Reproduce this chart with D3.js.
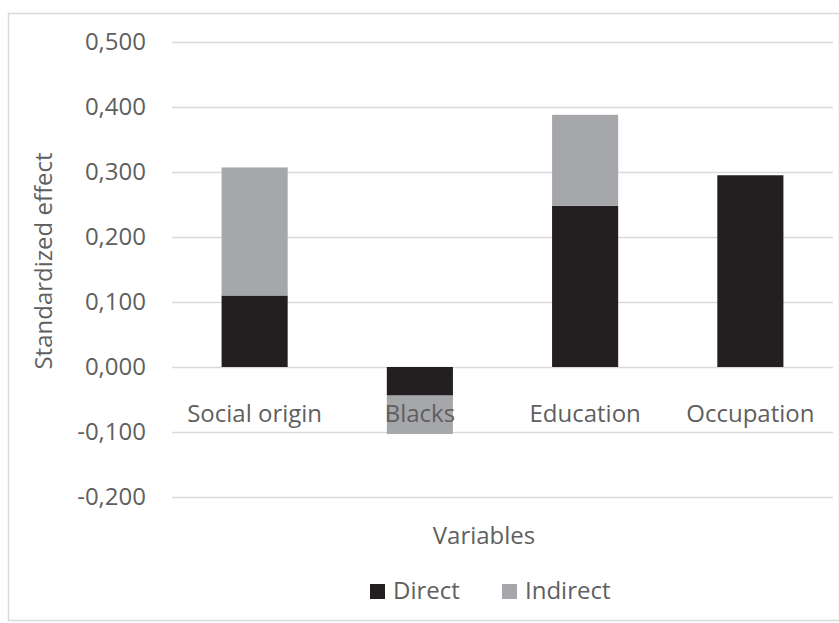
<!DOCTYPE html>
<html>
<head>
<meta charset="utf-8">
<script src="https://cdn.jsdelivr.net/npm/d3@7"></script>
<style>
  body { margin: 0; background: #fff; }
  svg text { font-family: "Open Sans", "Noto Sans", sans-serif; fill: #5f5f5f; }
</style>
</head>
<body>
<svg id="chart" width="839" height="623"></svg>
<script>
// Standardized effects by variable, split into direct and indirect parts
const categories = ["Social origin", "Blacks", "Education", "Occupation"];
const direct = [0.110, -0.044, 0.248, 0.295];
const indirect = [0.197, -0.059, 0.140, 0.000];
const tickValues = [-0.2, -0.1, 0, 0.1, 0.2, 0.3, 0.4, 0.5];
const seriesNames = ["Direct", "Indirect"];
const seriesColors = ["#231f20", "#a6a7aa"];

const svg = d3.select("#chart");
const W = 839, H = 623;
const plot = { left: 172, right: 833, top: 42, bottom: 497 };
const FS = 24;

// outer frame
svg.append("rect")
  .attr("x", 8.5).attr("y", 13.5)
  .attr("width", W - 8).attr("height", H - 16)
  .attr("fill", "#fff").attr("stroke", "#d9d9d9").attr("stroke-width", 1.5);

const x = d3.scaleBand().domain(categories)
  .range([plot.left, plot.right]).paddingInner(0.6).paddingOuter(0.3);
const y = d3.scaleLinear().domain([-0.2, 0.5]).range([plot.bottom, plot.top]);

const fmt = v => d3.format(".3f")(v).replace("−", "-").replace(".", ",");

// horizontal gridlines
svg.append("g").selectAll("line").data(tickValues).join("line")
  .attr("x1", plot.left).attr("x2", plot.right)
  .attr("y1", d => Math.round(y(d)) + 0.5).attr("y2", d => Math.round(y(d)) + 0.5)
  .attr("stroke", "#d9d9d9").attr("stroke-width", 1.3);

// y axis labels
const yAxis = d3.axisLeft(y).tickValues(tickValues).tickFormat(fmt).tickSize(0).tickPadding(0);
const yg = svg.append("g").attr("transform", `translate(${plot.left - 26},0)`).call(yAxis);
yg.select(".domain").remove();
yg.selectAll("text").attr("font-size", FS).attr("fill", "#5f5f5f")
  .style("font-family", "'Open Sans', sans-serif");

// stacked bars (positive and negative parts stacked away from zero)
const rows = categories.map((c, i) => ({ cat: c, values: [direct[i], indirect[i]] }));
rows.forEach(r => {
  let pos = 0, neg = 0;
  r.values.forEach((v, s) => {
    if (v === 0) return;
    let y0, y1;
    if (v >= 0) { y0 = pos; y1 = pos + v; pos = y1; }
    else { y0 = neg; y1 = neg + v; neg = y1; }
    svg.append("rect")
      .attr("x", x(r.cat)).attr("width", x.bandwidth())
      .attr("y", y(Math.max(y0, y1)))
      .attr("height", Math.abs(y(y0) - y(y1)))
      .attr("fill", seriesColors[s]);
  });
});

// category labels, drawn over the bars just below zero
svg.append("g").selectAll("text").data(categories).join("text")
  .attr("x", d => x(d) + x.bandwidth() / 2)
  .attr("y", y(0) + 55)
  .attr("text-anchor", "middle").attr("font-size", FS)
  .text(d => d);

// axis titles
svg.append("text")
  .attr("transform", `translate(52,261) rotate(-90)`)
  .attr("text-anchor", "middle").attr("font-size", FS).text("Standardized effect");
svg.append("text")
  .attr("x", 484).attr("y", 544).attr("text-anchor", "middle")
  .attr("font-size", FS).text("Variables");

// legend
const legendX = [370, 502];
const lg = svg.append("g");
seriesNames.forEach((n, i) => {
  lg.append("rect").attr("x", legendX[i]).attr("y", 584)
    .attr("width", 15).attr("height", 15).attr("fill", seriesColors[i]);
  lg.append("text").attr("x", legendX[i] + 23).attr("y", 599)
    .attr("font-size", FS).text(n);
});
</script>
</body>
</html>
